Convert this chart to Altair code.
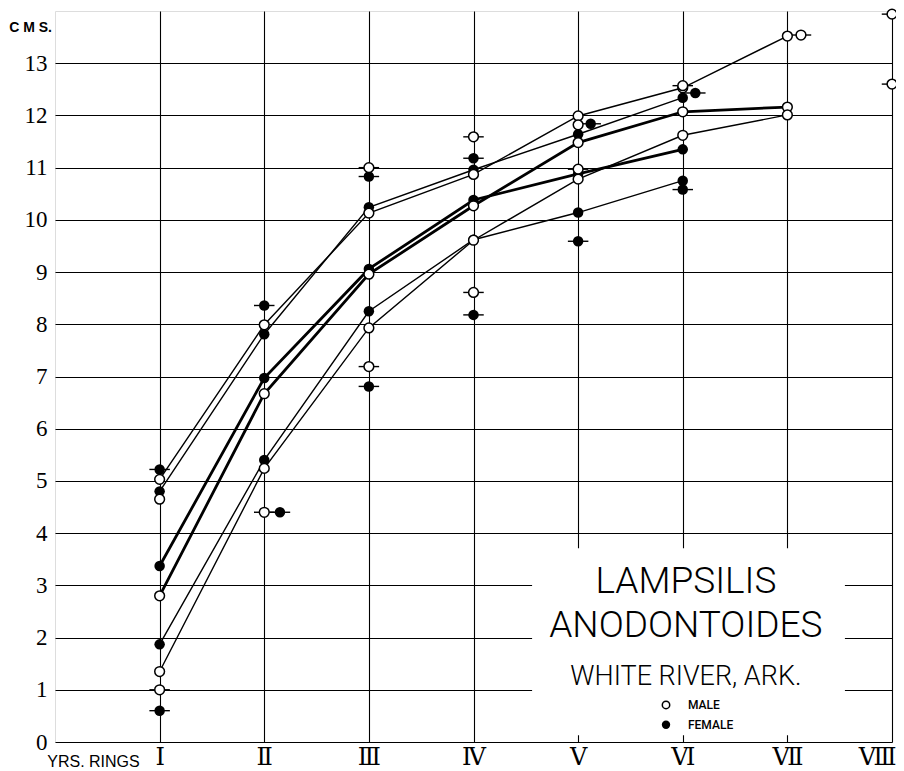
import altair as alt
import pandas as pd

# ---------------- data ----------------
ring_ticks = [1, 2, 3, 4, 5, 6, 7, 8]
ring_labels = ["", "Ⅰ", "Ⅱ", "Ⅲ", "Ⅳ", "Ⅴ", "Ⅵ", "Ⅶ", "Ⅷ"]
cm_ticks = [0, 1, 2, 3, 4, 5, 6, 7, 8, 9, 10, 11, 12, 13]

# connected growth curves (value in cms at each year ring I, II, ...)
series_names = ["male_upper", "female_upper", "male_middle",
                "female_middle", "male_lower", "female_lower"]
series_sex = ["male", "female", "male", "female", "male", "female"]
series_weight = ["thin", "thin", "thick", "thick", "thin", "thin"]
male_upper = [5.03, 7.99, 10.13, 10.87, 11.99, 12.53, 13.52]
female_upper = [4.80, 7.81, 10.24, 10.96, 11.64, 12.34]
male_middle = [2.80, 6.67, 8.96, 10.27, 11.48, 12.07, 12.16]
female_middle = [3.37, 6.97, 9.06, 10.38, 10.88, 11.35]
male_lower = [1.35, 5.24, 7.93, 9.61, 10.78, 11.62, 12.01]
female_lower = [1.87, 5.40, 8.25, 9.62, 10.14, 10.75]
series_values = [male_upper, female_upper, male_middle,
                 female_middle, male_lower, female_lower]

# single (unconnected) measurements
single_sex = ["male"] * 13 + ["female"] * 12
single_ring = [1, 1, 2, 3, 3, 4, 4, 5, 5, 6, 7.13, 8, 8,
               1, 1, 2, 2.15, 3, 3, 4, 4, 5.12, 5, 6.12, 6]
single_value = [4.65, 1.00, 4.40, 11.00, 7.19, 11.59, 8.61, 11.82, 10.97, 12.57, 13.54, 13.94, 12.60,
                5.22, 0.60, 8.36, 4.40, 10.83, 6.81, 11.18, 8.18, 11.84, 9.59, 12.43, 10.58]
single_bar = [False, True, True, True, True, True, True, False, True, True, True, True, True,
              True, True, True, True, True, True, True, True, True, True, True, True]

# annotation box (title area) in data units
box_ring = [4.56, 7.55]
box_cm = [0.13, 3.71]
title_lines = ["LAMPSILIS", "ANODONTOIDES", "WHITE RIVER, ARK."]
title_cm = [3.06, 2.22, 1.24]
title_size = [37, 37, 27]
legend_labels = ["MALE", "FEMALE"]
legend_sex = ["male", "female"]
legend_cm = [0.71, 0.33]
legend_ring = 5.84

# ---------------- frames ----------------
line_rows, pt_rows = [], []
for name, sex, w, vals in zip(series_names, series_sex, series_weight, series_values):
    for i, v in enumerate(vals):
        line_rows.append({"series": name, "sex": sex, "weight": w, "ring": i + 1, "value": v})
        pt_rows.append({"sex": sex, "ring": i + 1, "value": v, "bar": False})
for s, r, v, b in zip(single_sex, single_ring, single_value, single_bar):
    pt_rows.append({"sex": s, "ring": r, "value": v, "bar": b})
lines_df = pd.DataFrame(line_rows)
pts_df = pd.DataFrame(pt_rows)

box_df = pd.DataFrame({"ring": [box_ring[0]], "ring2": [box_ring[1]],
                       "value": [box_cm[1]], "value2": [box_cm[0]]})
title_df = pd.DataFrame({"text": title_lines, "ring": [6.03] * 3, "value": title_cm, "size": title_size})
leg_pts = pd.DataFrame({"sex": legend_sex, "ring": [legend_ring] * 2, "value": legend_cm})
leg_txt = pd.DataFrame({"text": legend_labels, "ring": [legend_ring + 0.21] * 2, "value": legend_cm})
cms_df = pd.DataFrame({"text": ["C M S."], "ring": [0.0], "value": [13.67]})
yrs_df = pd.DataFrame({"text": ["YRS.  RINGS"], "ring": [0.81], "value": [-0.38]})

# ---------------- encodings ----------------
xscale = alt.Scale(domain=[0, 8], nice=False, zero=False)
yscale = alt.Scale(domain=[0, 14], nice=False, zero=False)
xaxis = alt.Axis(values=ring_ticks, title=None, grid=True, ticks=False, domain=False,
                 labelExpr="%s[datum.value]" % str(ring_labels).replace("'", '"'),
                 labelFont="DejaVu Serif", labelFontSize=24, labelColor="black",
                 labelPadding=3, labelFlush=True, labelFlushOffset=4,
                 gridColor="black", gridOpacity=1, gridWidth=1.1)
yaxis = alt.Axis(values=cm_ticks, title=None, grid=True, ticks=False, domain=False,
                 labelFont="Liberation Sans Narrow", labelFontSize=23, labelColor="black",
                 labelPadding=8, labelFlush=False, gridColor="black", gridOpacity=1, gridWidth=1.1)


def X(field="ring"):
    return alt.X(f"{field}:Q", scale=xscale, axis=xaxis)


def Y(field="value"):
    return alt.Y(f"{field}:Q", scale=yscale, axis=yaxis)


box = alt.Chart(box_df).mark_rect(fill="white", stroke=None).encode(
    x=X(), x2="ring2:Q", y=Y(), y2="value2:Q")

thin = alt.Chart(lines_df).transform_filter("datum.weight == 'thin'").mark_line(
    color="black", strokeWidth=1.4).encode(x=X(), y=Y(), detail="series:N")
thick = alt.Chart(lines_df).transform_filter("datum.weight == 'thick'").mark_line(
    color="black", strokeWidth=2.8).encode(x=X(), y=Y(), detail="series:N")

bars = alt.Chart(pts_df).transform_filter("datum.bar").mark_point(
    shape="M-1,0L1,0", size=420, stroke="black", strokeWidth=1.4, filled=False, opacity=1
).encode(x=X(), y=Y())

fem = alt.Chart(pts_df).transform_filter("datum.sex == 'female'").mark_point(
    shape="circle", size=110, filled=True, color="black", opacity=1).encode(x=X(), y=Y())
mal = alt.Chart(pts_df).transform_filter("datum.sex == 'male'").mark_point(
    shape="circle", size=95, filled=True, fill="white", stroke="black", strokeWidth=1.5,
    opacity=1).encode(x=X(), y=Y())

titles = alt.Chart(title_df).mark_text(
    font="Roboto", fontWeight=300, color="black", align="center", baseline="middle"
).encode(x=X(), y=Y(), text="text:N", size=alt.Size("size:Q", scale=None, legend=None))

leg_f = alt.Chart(leg_pts).transform_filter("datum.sex == 'female'").mark_point(
    shape="circle", size=70, filled=True, color="black", opacity=1).encode(x=X(), y=Y())
leg_m = alt.Chart(leg_pts).transform_filter("datum.sex == 'male'").mark_point(
    shape="circle", size=55, filled=True, fill="white", stroke="black", strokeWidth=1.5,
    opacity=1).encode(x=X(), y=Y())
leg_t = alt.Chart(leg_txt).mark_text(
    font="Roboto", fontWeight=500, fontSize=12, color="black", align="left", baseline="middle"
).encode(x=X(), y=Y(), text="text:N")

cms = alt.Chart(cms_df).mark_text(
    font="Liberation Sans", fontWeight="bold", fontSize=14, color="black",
    align="right", baseline="middle", dx=-3).encode(x=X(), y=Y(), text="text:N")
yrs = alt.Chart(yrs_df).mark_text(
    font="Liberation Sans", fontSize=16, color="black",
    align="right", baseline="middle").encode(x=X(), y=Y(), text="text:N")

chart = alt.layer(box, thin, thick, bars, fem, mal, titles, leg_f, leg_m, leg_t, cms, yrs).properties(
    width=837, height=731,
    autosize=alt.AutoSizeParams(type="none"),
    padding={"left": 47, "top": 3, "right": 4, "bottom": 28},
).configure_view(stroke="black", strokeWidth=1.6).configure(background="white")

chart.save("out.html", embed_options={"renderer": "svg", "actions": False})
